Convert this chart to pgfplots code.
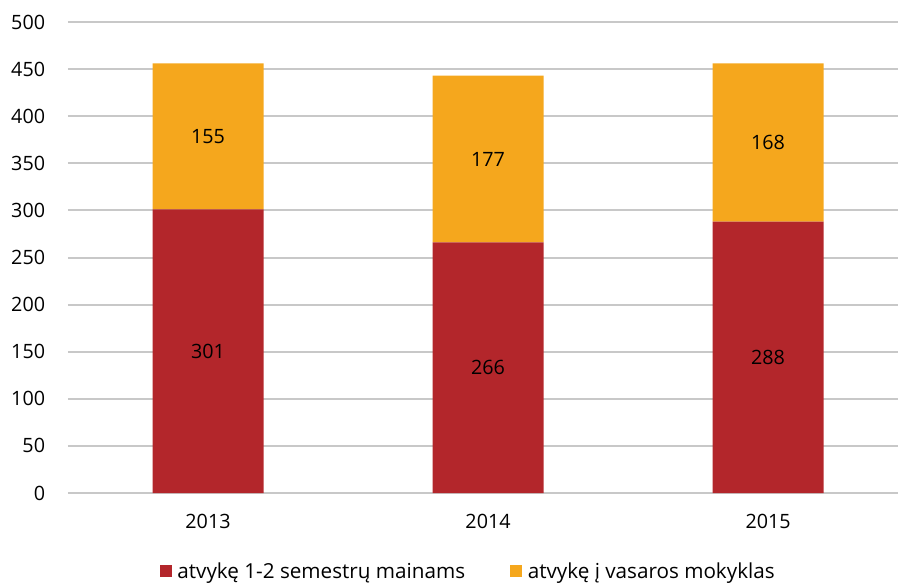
\documentclass[border=0pt]{standalone}
\usepackage{fontspec}
\setmainfont{Open Sans}
\usepackage{pgfplots}
\pgfplotsset{compat=1.18}
\definecolor{cred}{HTML}{B3262B}
\definecolor{corange}{HTML}{F5A71D}
\definecolor{cgrid}{HTML}{C8C8C8}
\begin{document}
\begin{tikzpicture}
\begin{axis}[
  name=ax,
  scale only axis,
  width=622.5pt, height=353.25pt,
  ybar stacked,
  bar width=83.25pt,
  xmin=-0.5, xmax=2.464,
  ymin=0, ymax=500,
  ytick={0,50,...,500},
  xtick={0,1,2},
  xticklabels={2013,2014,2015},
  major tick length=0pt,
  axis line style={draw=none},
  ymajorgrids,
  grid style={cgrid, line width=1.5pt},
  font=\fontsize{14.8}{17}\selectfont,
  /pgf/number format/assume math mode=true,
  yticklabel style={inner sep=0pt, anchor=east, xshift=-17pt},
  xticklabel style={inner sep=0pt, anchor=north, yshift=-15.5pt},
  legend style={draw=none, at={(0.482,-0.166)}, anchor=center, legend columns=2,
    font=\fontsize{15.5}{18}\selectfont,
    nodes={inner sep=1pt},
    /tikz/every even column/.append style={column sep=33pt}},
  legend image code/.code={\fill[#1] (0pt,-4.5pt) rectangle (9pt,4.5pt); \path (12pt,0pt);},
  nodes near coords,
  every node near coord/.append style={font=\fontsize{14.8}{17}\selectfont, color=black, anchor=center},
  nodes near coords style={/pgf/number format/assume math mode=true},
]
\addplot[fill=cred, draw=none, nodes near coords align=center] coordinates {(0,301) (1,266) (2,288)};
\addplot[fill=corange, draw=none] coordinates {(0,155) (1,177) (2,168)};
\legend{atvykę 1-2 semestrų mainams, atvykę į vasaros mokyklas}
\end{axis}
\pgfresetboundingbox
\path ([xshift=-51pt,yshift=-67.5pt]ax.south west) rectangle ([yshift=16.5pt]ax.north east);
\end{tikzpicture}
\end{document}
